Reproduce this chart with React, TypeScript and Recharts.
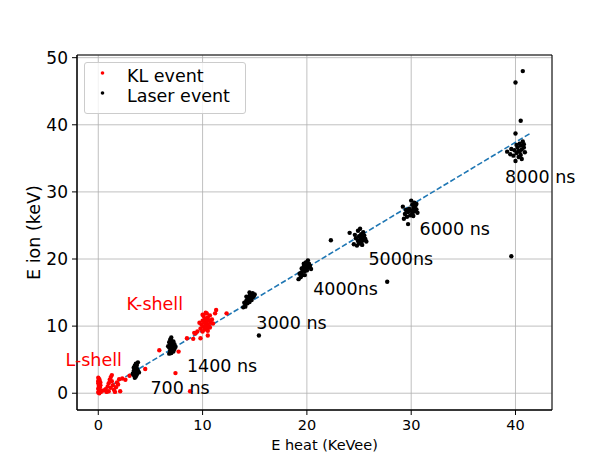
import React from 'react';
import {
  ScatterChart, Scatter, XAxis, YAxis, CartesianGrid, Legend,
  ReferenceLine, ReferenceDot, ReferenceArea, Label,
} from 'recharts';

type Pt = [number, number];

// ---- KL events (red) ----
const klLShell: Pt[] = [
  [0.0, 0.1], [0.05, 0.3], [0.1, 0.5], [0.0, 0.7], [0.15, 0.9], [0.05, 1.1], [0.1, 1.3],
  [0.0, 1.5], [0.15, 1.7], [0.05, 1.9], [0.1, 2.1], [0.0, 2.3], [0.2, 0.4], [0.2, 1.2],
  [0.1, 0.0], [0.05, 0.6], [0.1, 1.0], [0.0, 1.8], [0.2, 1.6], [0.25, 0.2],
  [0.5, 0.4], [0.7, 0.6], [0.9, 1.0], [1.0, 1.5], [1.1, 2.0], [1.2, 2.4], [1.3, 1.8],
  [1.4, 1.2], [1.2, 0.8], [1.0, 0.3], [1.5, 0.5], [1.7, 0.9], [1.8, 1.6], [2.0, 2.1],
  [1.6, 0.2], [2.1, 0.3], [2.3, 2.2], [0.8, 0.2], [1.9, 1.3], [1.3, 2.7], [2.6, 2.0],
  [3.0, 2.6], [4.5, 3.6],
];
const klKShell: Pt[] = [
  [10.0, 9.2], [10.2, 9.5], [10.4, 9.7], [10.1, 9.9], [10.3, 10.1], [10.5, 10.3], [10.2, 10.5],
  [10.4, 10.7], [10.6, 10.9], [10.3, 11.1], [10.5, 11.3], [10.1, 11.5], [10.7, 11.6], [10.4, 11.9],
  [9.9, 10.2], [10.0, 10.8], [10.6, 10.0], [10.8, 10.5], [9.8, 9.6], [10.2, 11.0], [10.5, 9.3],
  [10.9, 11.0], [10.3, 12.0], [9.7, 10.5], [10.7, 9.8], [10.0, 11.7], [11.0, 10.4], [10.4, 10.3],
  [9.5, 9.2], [9.1, 8.1], [9.8, 8.2], [11.3, 12.4], [12.3, 11.9], [10.5, 8.6], [9.2, 9.0],
];
const klScattered: Pt[] = [
  [5.85, 6.4], [7.4, 3.0], [8.8, 0.3], [7.7, 6.2], [8.5, 8.2], [9.3, 8.9], [11.2, 11.9],
];

// ---- Laser events (black) ----
const laser700: Pt[] = [
  [3.5, 2.3], [3.6, 2.5], [3.4, 2.7], [3.7, 2.8], [3.5, 3.0], [3.6, 3.2], [3.4, 3.3], [3.8, 3.4],
  [3.5, 3.6], [3.7, 3.7], [3.6, 3.9], [3.5, 4.1], [3.7, 4.2], [3.6, 4.4], [3.8, 4.6], [3.3, 2.9],
  [3.9, 3.1], [3.5, 3.5], [3.6, 2.9], [3.7, 3.5], [3.4, 3.8], [3.6, 4.0],
];
const laser1400: Pt[] = [
  [6.8, 5.9], [7.0, 6.0], [7.2, 6.2], [6.9, 6.4], [7.1, 6.5], [7.3, 6.6], [6.8, 6.8], [7.0, 7.0],
  [7.2, 7.1], [6.9, 7.3], [7.1, 7.4], [6.8, 7.6], [7.0, 7.8], [7.2, 7.7], [6.9, 8.0], [7.0, 8.3],
  [7.4, 6.9], [6.7, 7.0], [7.1, 6.8], [7.0, 7.5], [6.9, 6.1], [7.3, 7.3],
];
const laser3000: Pt[] = [
  [13.9, 12.8], [14.1, 13.2], [14.3, 13.4], [14.5, 13.6], [14.2, 13.8], [14.4, 14.0], [14.6, 14.1],
  [14.8, 14.3], [14.5, 14.5], [14.7, 14.6], [14.9, 14.4], [14.3, 14.2], [14.6, 14.8], [14.8, 14.9],
  [14.4, 13.7], [14.0, 13.5], [15.0, 14.7], [14.7, 13.9], [14.2, 14.4], [14.5, 15.0], [14.1, 12.9],
  [15.4, 8.6],
];
const laser4000: Pt[] = [
  [19.2, 17.0], [19.4, 17.3], [19.6, 17.6], [19.3, 17.8], [19.5, 18.0], [19.8, 18.2], [19.6, 18.4],
  [19.9, 18.6], [20.1, 18.7], [19.7, 18.9], [20.0, 19.1], [20.2, 19.3], [19.9, 19.5], [20.1, 19.8],
  [20.3, 19.0], [19.4, 17.9], [19.8, 17.6], [20.0, 18.3], [19.5, 18.6], [20.4, 18.5], [19.7, 19.3],
];
const laser5000: Pt[] = [
  [24.5, 22.2], [24.8, 22.0], [25.0, 22.3], [25.2, 22.5], [24.9, 22.7], [25.1, 22.9], [25.4, 22.8],
  [25.6, 23.0], [25.3, 23.2], [25.0, 23.4], [25.5, 23.5], [24.7, 23.1], [25.2, 23.7], [25.4, 24.0],
  [24.9, 24.2], [25.1, 24.5], [24.1, 23.9], [25.7, 22.6], [24.6, 23.6], [25.3, 22.1],
  [22.3, 22.8], [27.7, 16.6],
];
const laser6000: Pt[] = [
  [29.3, 26.0], [29.6, 26.3], [29.9, 26.5], [30.1, 26.8], [29.7, 27.0], [30.0, 27.2], [30.3, 27.1],
  [30.5, 27.4], [30.2, 27.6], [29.8, 27.5], [30.4, 27.9], [30.1, 28.1], [30.3, 28.4], [30.0, 28.7],
  [29.5, 27.3], [30.6, 26.9], [29.4, 26.7], [30.2, 26.4], [29.2, 27.8], [30.5, 28.2], [29.7, 25.2],
];
const laser8000: Pt[] = [
  [39.2, 36.0], [39.5, 35.6], [39.8, 35.4], [40.1, 35.8], [40.3, 36.1], [40.6, 36.3], [40.2, 36.6],
  [40.5, 36.9], [40.8, 36.6], [40.4, 37.2], [40.7, 37.5], [40.1, 37.0], [40.9, 35.9], [40.3, 35.2],
  [40.6, 34.9], [40.0, 34.6], [39.6, 36.4], [40.4, 36.0], [40.8, 37.1], [39.9, 36.2], [40.5, 35.5],
  [40.7, 48.0], [40.0, 46.3], [40.5, 40.6], [40.0, 38.7], [39.6, 20.4],
];

// ---- fit line ----
const fitStart: Pt = [0, 0];
const fitEnd: Pt = [41.5, 38.8];

// ---- annotations ----
const annoText = ['700 ns', '1400 ns', '3000 ns', '4000ns', '5000ns', '6000 ns', '8000 ns', 'K-shell', 'L-shell'];
const annoX = [5.0, 8.5, 15.15, 20.6, 25.9, 30.8, 39.0, 2.7, 2.27];
const annoY = [-0.1, 3.1, 9.5, 14.6, 19.1, 23.6, 31.3, 12.4, 4.0];
const annoColor = ['#000', '#000', '#000', '#000', '#000', '#000', '#000', '#ff0000', '#ff0000'];
const annoAnchor = ['start', 'start', 'start', 'start', 'start', 'start', 'start', 'start', 'end'];

// ---- axes ----
const xTicks = [0, 10, 20, 30, 40];
const yTicks = [0, 10, 20, 30, 40, 50];
const xDomain: [number, number] = [-2.04, 43.5];
const yDomain: [number, number] = [-2.5, 50.4];

const toRows = (pts: Pt[]) => pts.map(([x, y]) => ({ x, y }));
const klData = toRows([...klLShell, ...klKShell, ...klScattered]);
const laserData = toRows([...laser700, ...laser1400, ...laser3000, ...laser4000, ...laser5000, ...laser6000, ...laser8000]);

const FONT = 'DejaVu Sans, Verdana, sans-serif';

const dot = (color: string, r: number) => (p: any) =>
  <circle cx={p.cx} cy={p.cy} r={r} fill={color} stroke="none" />;

const LegendBox = (props: any) => {
  const payload = props.payload || [];
  return (
    <div style={{
      position: 'relative', width: 162, height: 52, boxSizing: 'border-box',
      border: '1px solid #cccccc', borderRadius: 3, background: 'rgba(255,255,255,0.8)',
      fontFamily: FONT, fontSize: 17.5, color: '#000',
    }}>
      {payload.map((e: any, i: number) => (
        <div key={i} style={{ position: 'absolute', left: 0, top: 3 + i * 20, height: 20, width: 160 }}>
          <svg width={30} height={20} style={{ position: 'absolute', left: 0, top: 0 }}>
            <circle cx={17.5} cy={7} r={1.8} fill={e.color} />
          </svg>
          <span style={{ position: 'absolute', left: 42, top: 0, lineHeight: '20px', whiteSpace: 'nowrap' }}>
            {e.value}
          </span>
        </div>
      ))}
    </div>
  );
};

export default function App() {
  return (
    <div style={{ position: 'absolute', left: 0, top: 0, width: 614, height: 461, background: '#fff' }}>
      <ScatterChart width={614} height={461} margin={{ top: 55, right: 62, bottom: 0, left: 0 }}>
        <CartesianGrid stroke="#b0b0b0" strokeWidth={0.8} />
        <XAxis
          type="number" dataKey="x" domain={xDomain} ticks={xTicks} allowDataOverflow
          height={51} tickSize={5} tickMargin={5}
          stroke="#000" axisLine={{ stroke: '#000' }} tickLine={{ stroke: '#000' }}
          tick={{ fill: '#000', fontSize: 14.5, fontFamily: FONT }}
        >
          <Label
            content={(p: any) => {
              const vb = p.viewBox;
              return (
                <text x={vb.x + vb.width / 2 + 10} y={vb.y + 40} textAnchor="middle"
                  fontSize={14.5} fontFamily={FONT} fill="#000">E heat (KeVee)</text>
              );
            }}
          />
        </XAxis>
        <YAxis
          type="number" dataKey="y" domain={yDomain} ticks={yTicks} allowDataOverflow
          width={77} tickSize={5} tickMargin={4}
          stroke="#000" axisLine={{ stroke: '#000' }} tickLine={{ stroke: '#000' }}
          tick={{ fill: '#000', fontSize: 17, fontFamily: FONT }}
        >
          <Label
            content={(p: any) => {
              const vb = p.viewBox;
              const cx = 40;
              const cy = vb.y + vb.height / 2;
              return (
                <text x={cx} y={cy} textAnchor="middle" transform={`rotate(-90 ${cx} ${cy})`}
                  fontSize={17.5} fontFamily={FONT} fill="#000">E ion (keV)</text>
              );
            }}
          />
        </YAxis>
        <ReferenceArea x1={xDomain[0]} x2={xDomain[1]} y1={yDomain[0]} y2={yDomain[1]}
          fill="none" fillOpacity={0} stroke="#000" strokeWidth={1} />
        <Scatter name="KL event" data={klData} fill="#ff0000" isAnimationActive={false}
          shape={dot('#ff0000', 2.2)} />
        <Scatter name="Laser event" data={laserData} fill="#000000" isAnimationActive={false}
          shape={dot('#000000', 2.2)} />
        <ReferenceLine
          segment={[{ x: fitStart[0], y: fitStart[1] }, { x: fitEnd[0], y: fitEnd[1] }]}
          stroke="#1f77b4" strokeWidth={1.6} strokeDasharray="5.5 2.4"
        />
        {annoText.map((t, i) => (
          <ReferenceDot key={t} x={annoX[i]} y={annoY[i]} r={0}
            shape={(p: any) => (
              <text x={p.cx} y={p.cy} textAnchor={annoAnchor[i] as any} fontSize={17.5}
                fontFamily={FONT} fill={annoColor[i]}>{t}</text>
            )}
          />
        ))}
        <Legend
          layout="vertical" align="center" verticalAlign="middle"
          wrapperStyle={{ left: 84, top: 62, width: 162, height: 52 }}
          content={<LegendBox />}
        />
      </ScatterChart>
    </div>
  );
}
